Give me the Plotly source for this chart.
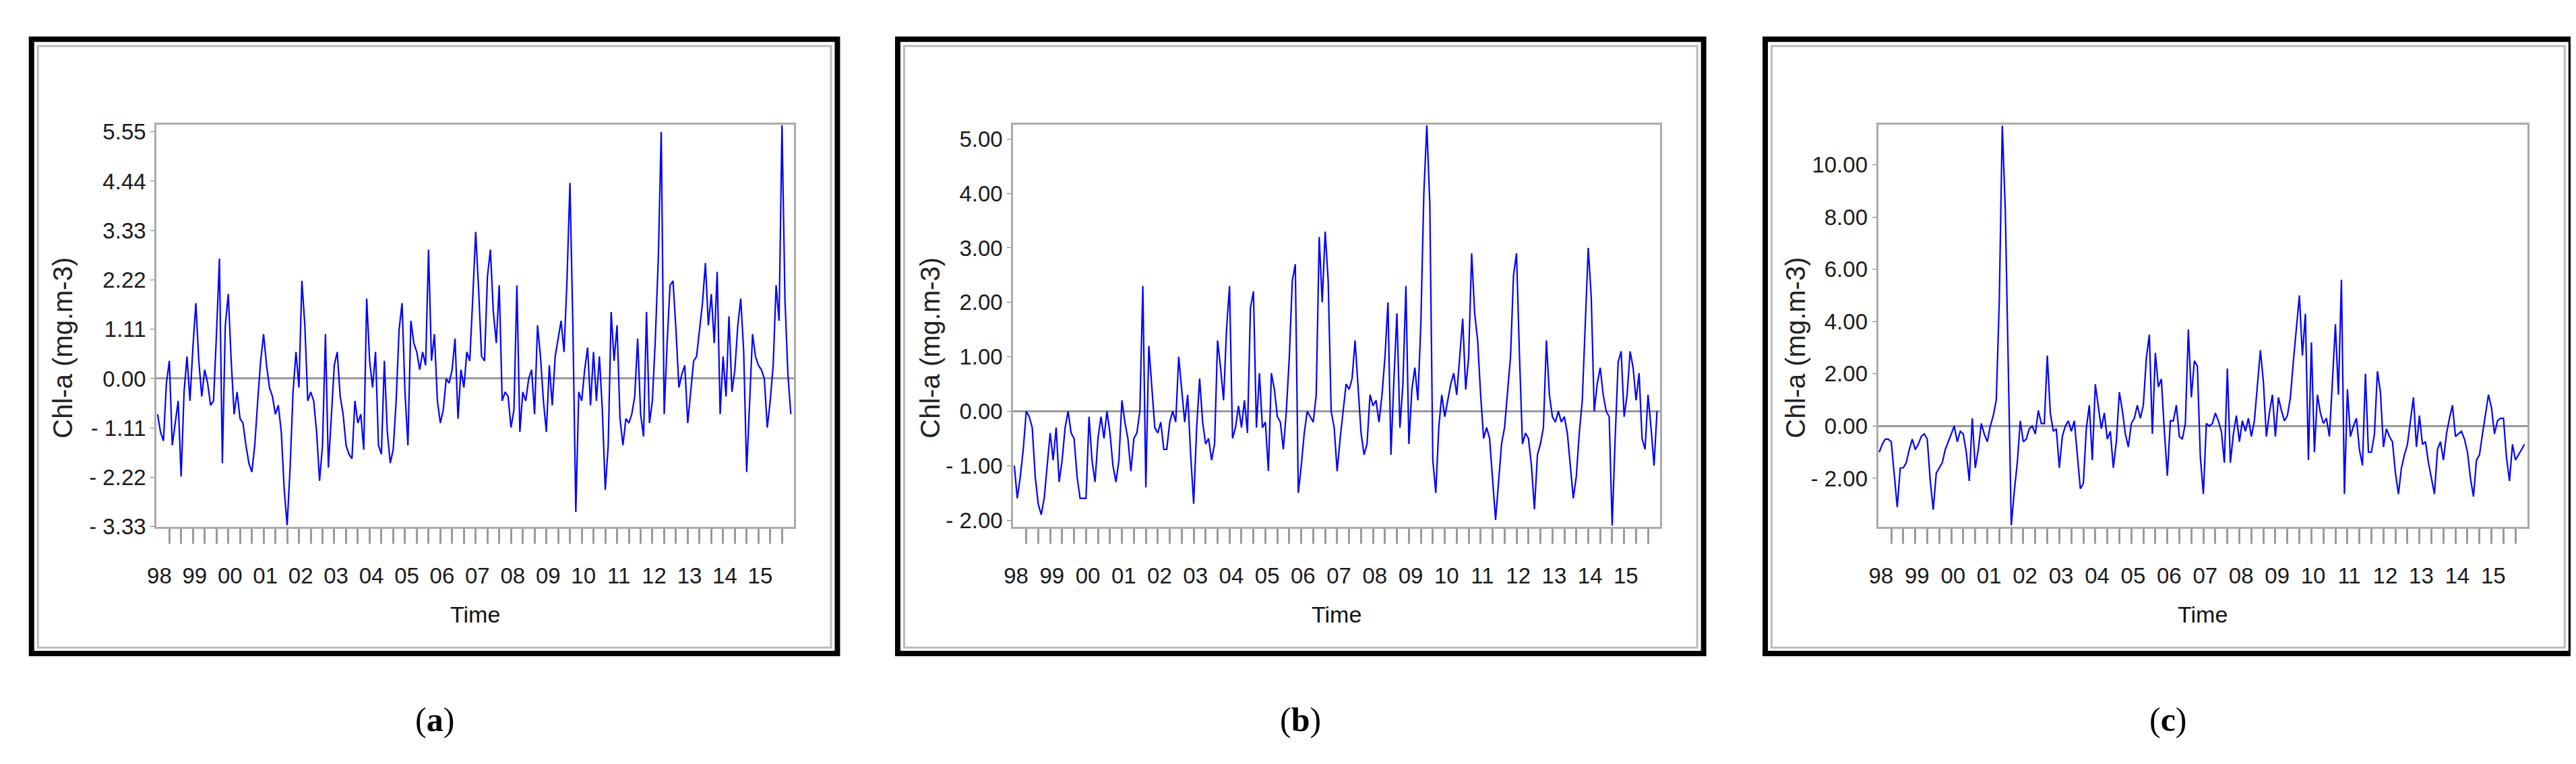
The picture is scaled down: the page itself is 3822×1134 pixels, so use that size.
import plotly.graph_objects as go

years = [f"{y%100:02d}" for y in range(1998, 2016)]

chl_a = [
 -0.8,-1.2,-1.4,-0.1,0.4,-1.5,-1.0,-0.5,-2.2,-0.3,0.5,-0.5,
 0.7,1.7,0.4,-0.4,0.2,-0.1,-0.6,-0.5,1.0,2.7,-1.9,1.2,
 1.9,0.4,-0.8,-0.3,-0.9,-1.0,-1.5,-1.9,-2.1,-1.5,-0.5,0.4,
 1.0,0.3,-0.2,-0.4,-0.8,-0.6,-1.2,-2.5,-3.3,-2.0,-0.3,0.6,
 -0.2,2.2,1.2,-0.5,-0.3,-0.5,-1.2,-2.3,-1.5,1.0,-2.0,-0.8,
 0.3,0.6,-0.4,-0.8,-1.5,-1.7,-1.8,-0.5,-1.0,-0.8,-1.6,1.8,
 0.4,-0.2,0.6,-1.5,-1.7,0.4,-1.2,-1.9,-1.6,-0.5,1.1,1.7,
 -0.3,-1.5,1.3,0.8,0.6,0.2,0.6,0.3,2.9,0.4,1.0,-0.5,
 -1.0,-0.7,0.0,-0.1,0.2,0.9,-0.9,0.2,-0.2,0.6,0.4,1.8,
 3.3,2.0,0.5,0.4,2.3,2.9,1.5,0.8,2.1,-0.5,-0.3,-0.4,
 -1.1,-0.7,2.1,-1.2,-0.3,-0.5,0.0,0.2,-0.8,1.2,0.5,-0.5,
 -1.2,0.3,-0.6,0.5,0.9,1.3,0.6,2.2,4.4,1.2,-3.0,-0.3,
 -0.5,0.2,0.7,-0.6,0.6,-0.5,0.5,-0.7,-2.5,-1.5,1.5,0.4,
 1.2,-0.9,-1.5,-0.9,-1.0,-0.8,-0.4,0.9,-0.8,-1.3,1.5,-1.0,
 -0.5,0.9,2.7,5.55,-0.8,0.8,2.1,2.2,1.1,-0.2,0.1,0.3,
 -1.0,-0.3,0.4,0.5,1.1,1.7,2.6,1.2,1.9,0.8,2.4,-0.8,
 0.5,-0.4,1.4,-0.3,0.2,1.2,1.8,0.6,-2.1,-0.6,1.0,0.5,
 0.3,0.2,0.0,-1.1,-0.5,0.3,2.1,1.3,5.7,1.8,0.1,-0.8,
]
chl_b = [
 -1.0,-1.6,-1.2,-0.7,0.0,-0.1,-0.3,-1.2,-1.7,-1.9,-1.6,-1.0,
 -0.4,-0.9,-0.3,-1.3,-0.9,-0.3,0.0,-0.4,-0.5,-1.2,-1.6,-1.6,
 -1.6,-0.1,-0.9,-1.3,-0.5,-0.1,-0.5,0.0,-0.4,-1.0,-1.3,-0.9,
 0.2,-0.2,-0.5,-1.1,-0.5,-0.4,0.0,2.3,-1.4,1.2,0.5,-0.3,
 -0.4,-0.2,-0.7,-0.7,-0.2,0.0,-0.2,1.0,0.4,-0.2,0.3,-0.8,
 -1.7,-0.3,0.6,-0.2,-0.6,-0.5,-0.9,-0.6,1.3,0.8,0.2,1.5,
 2.3,-0.5,-0.3,0.1,-0.3,0.2,-0.4,1.9,2.2,-0.3,0.7,-0.3,
 -0.2,-1.1,0.7,0.4,-0.1,-0.2,-0.7,0.0,1.0,2.4,2.7,-1.5,
 -1.0,-0.4,0.0,-0.1,-0.2,0.3,3.2,2.0,3.3,2.4,0.0,-0.3,
 -1.1,-0.5,0.0,0.5,0.4,0.6,1.3,0.5,-0.4,-0.8,-0.6,0.3,
 0.1,0.2,-0.2,0.3,1.0,2.0,-0.8,0.6,1.8,-0.3,0.5,2.3,
 -0.6,0.4,0.8,0.2,1.6,4.0,5.25,3.8,-0.9,-1.5,-0.3,0.3,
 -0.1,0.2,0.5,0.7,0.3,1.0,1.7,0.4,1.0,2.9,1.8,1.3,
 0.3,-0.5,-0.3,-0.5,-1.2,-2.0,-1.3,-0.6,-0.3,0.3,1.0,2.5,
 2.9,1.0,-0.6,-0.4,-0.5,-1.0,-1.8,-0.8,-0.6,-0.3,1.3,0.3,
 -0.1,-0.2,0.0,-0.2,-0.1,-0.4,-1.0,-1.6,-1.2,-0.4,0.2,1.6,
 3.0,2.1,0.0,0.5,0.8,0.3,0.0,-0.1,-2.1,-0.5,0.9,1.1,
 -0.1,0.3,1.1,0.8,0.2,0.7,-0.5,-0.7,0.3,-0.3,-1.0,0.0,
]
chl_c = [
 -1.0,-0.7,-0.5,-0.5,-0.6,-1.9,-3.1,-1.6,-1.6,-1.4,-0.9,-0.5,
 -0.9,-0.7,-0.4,-0.3,-0.5,-2.1,-3.2,-1.8,-1.6,-1.4,-0.9,-0.6,
 -0.3,0.0,-0.6,-0.2,-0.3,-1.0,-2.1,0.3,-1.6,-0.9,0.1,-0.3,
 -0.6,0.0,0.4,1.0,4.8,11.5,8.3,1.7,-3.8,-2.5,-1.4,0.2,
 -0.6,-0.5,-0.1,0.0,-0.3,0.6,0.1,0.1,2.7,0.5,-0.2,-0.1,
 -1.6,-0.4,0.0,0.2,-0.2,0.2,-1.0,-2.4,-2.2,-0.1,0.8,-1.3,
 1.6,0.8,-0.1,0.5,-0.5,-0.2,-1.6,-0.6,1.3,0.6,-0.3,-0.8,
 0.1,0.3,0.8,0.3,0.8,2.6,3.5,-0.3,2.8,1.5,1.8,-0.2,
 -1.9,0.2,0.2,0.8,-0.4,-0.5,0.1,3.7,1.1,2.5,2.3,-1.2,
 -2.6,0.1,0.0,0.1,0.5,0.2,-0.2,-1.4,2.2,-1.4,-0.3,0.4,
 -0.6,0.2,-0.2,0.3,-0.4,0.2,1.5,2.9,1.7,-0.4,0.5,1.2,
 -0.4,1.1,0.6,0.2,0.4,1.1,2.5,3.7,5.0,2.7,4.3,-1.3,
 3.2,-1.0,1.2,0.5,0.1,0.3,-0.4,1.7,3.9,1.2,5.6,-2.6,
 1.4,-0.4,0.0,0.3,-0.9,-1.5,2.0,-1.0,-1.0,-0.3,2.1,1.3,
 -0.8,-0.1,-0.4,-0.6,-1.8,-2.6,-1.6,-1.1,-0.7,0.2,1.1,-0.8,
 0.4,-0.7,-0.6,-1.4,-2.0,-2.6,-0.9,-0.6,-1.3,-0.3,0.3,0.8,
 -0.4,-0.3,-0.2,-0.5,-1.0,-2.0,-2.7,-1.3,-1.1,-0.3,0.4,1.2,
 0.7,-0.3,0.2,0.3,0.3,-1.2,-2.1,-0.7,-1.3,-1.1,-0.9,-0.7,
]

yt_a = [-3.33, -2.22, -1.11, 0.0, 1.11, 2.22, 3.33, 4.44, 5.55]
yt_b = [-2.0, -1.0, 0.0, 1.0, 2.0, 3.0, 4.0, 5.0]
yt_c = [-2.0, 0.0, 2.0, 4.0, 6.0, 8.0, 10.0]

def fmt(v):
    s = f"{abs(v):.2f}"
    return ("- " + s) if v < 0 else s

months = [1998 + i / 12 for i in range(216)]
yvals = [1998.05 + k for k in range(18)]
minor_vals = [1998 + k / 3 for k in range(1, 54)]

panels = [
    (chl_a, yt_a, [-3.33, 5.72], (0.0552, 0.3035), (0.0065, 0.3205), 0.0186, "a"),
    (chl_b, yt_b, [-2.12, 5.27], (0.389, 0.641), (0.344, 0.658), 0.3566, "b"),
    (chl_c, yt_c, [-3.85, 11.55], (0.726, 0.979), (0.682, 0.996), 0.6937, "c"),
]

fig = go.Figure()
tickfont = dict(family="Liberation Sans Narrow, Liberation Sans, Arial", size=33, color="#1a1a1a")
shapes, annotations = [], []
for i, (vals, yt, yr, dom, frame, ytx, lab) in enumerate(panels):
    n = "" if i == 0 else str(i + 1)
    fig.add_trace(go.Scatter(x=months, y=vals, mode="lines", line=dict(color="#0000ff", width=2.2),
                             xaxis="x" + n, yaxis="y" + n, showlegend=False))
    fig.update_layout(**{
        "xaxis" + n: dict(domain=list(dom), range=[1997.97, 2016.0], tickmode="array", tickvals=yvals,
                          ticktext=years, ticks="", showgrid=False, ticklabelstandoff=42,
                          minor=dict(tickmode="array", tickvals=minor_vals, ticks="outside",
                                     ticklen=22, tickcolor="#999", tickwidth=3, showgrid=False),
                          zeroline=False, showline=True, linecolor="#aaaaaa", linewidth=3, mirror=True,
                          tickfont=tickfont, anchor="y" + n),
        "yaxis" + n: dict(domain=[0.308, 0.847], range=yr, tickmode="array", tickvals=yt,
                          ticktext=[fmt(v) for v in yt], ticks="outside", ticklen=6, tickcolor="#777",
                          showgrid=False, zeroline=True, zerolinecolor="#999999", zerolinewidth=3,
                          showline=True, linecolor="#aaaaaa", linewidth=3, mirror=True,
                          tickfont=tickfont, anchor="x" + n),
    })
    shapes.append(dict(type="rect", xref="paper", yref="paper", x0=frame[0], x1=frame[1], y0=0.138, y1=0.961,
                       line=dict(color="black", width=8), layer="below"))
    shapes.append(dict(type="rect", xref="paper", yref="paper", x0=frame[0] + 0.0025, x1=frame[1] - 0.0025,
                       y0=0.146, y1=0.952, line=dict(color="#bbbbbb", width=3), layer="below"))
    annotations.append(dict(text="Chl-a (mg.m-3)", xref="paper", yref="paper", x=ytx, y=0.548, textangle=-90,
                            xanchor="center", yanchor="middle", showarrow=False,
                            font=dict(family="Liberation Sans, Arial", size=40, color="#222")))
    annotations.append(dict(text="Time", xref="paper", yref="paper", x=(dom[0] + dom[1]) / 2, y=0.19,
                            xanchor="center", yanchor="middle", showarrow=False,
                            font=dict(family="Liberation Sans Narrow, Arial", size=34, color="#111")))
    annotations.append(dict(text=f"(<b>{lab}</b>)", xref="paper", yref="paper", x=(frame[0] + frame[1]) / 2,
                            y=0.05, xanchor="center", yanchor="middle", showarrow=False,
                            font=dict(family="Liberation Serif, Times New Roman", size=50, color="black")))

fig.update_layout(width=3822, height=1134, margin=dict(l=0, r=0, t=0, b=0), plot_bgcolor="white",
                  paper_bgcolor="white", shapes=shapes, annotations=annotations)
fig.write_html("out.html")
